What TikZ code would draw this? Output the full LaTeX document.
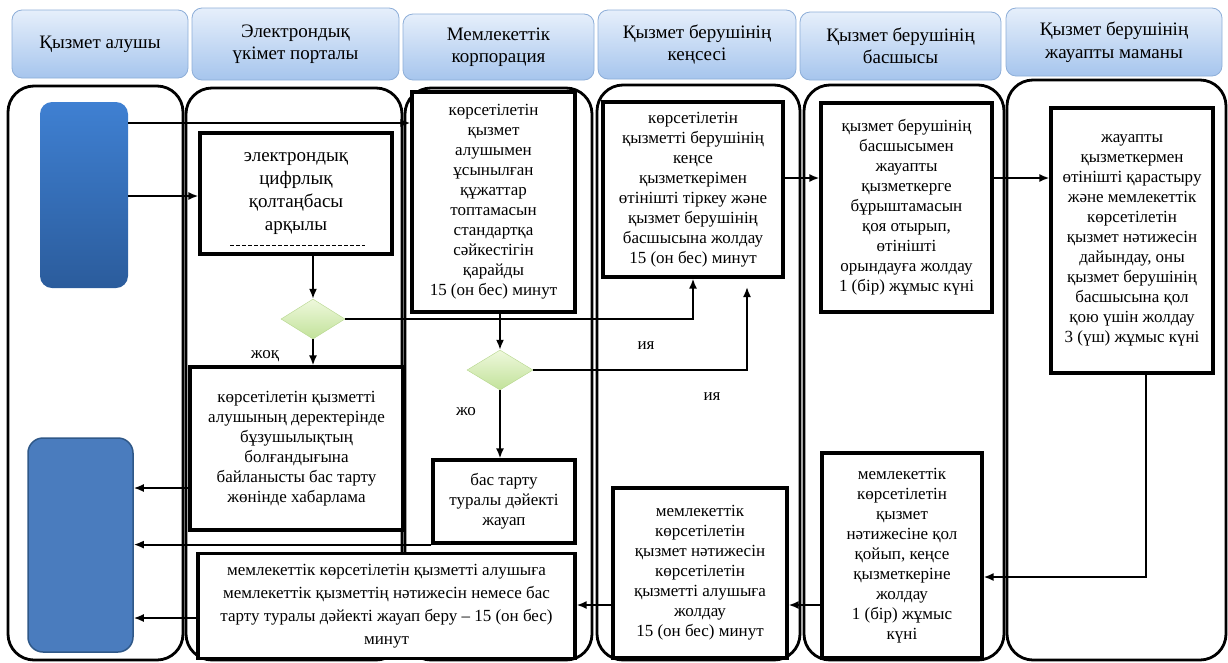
\documentclass[tikz,border=0pt]{standalone}
\usepackage{fontspec}
\setmainfont{Liberation Serif}
\usetikzlibrary{arrows.meta,shapes.geometric}
\definecolor{hdtop}{HTML}{E6EFFB}
\definecolor{hdbot}{HTML}{A6C5ED}
\definecolor{hdline}{HTML}{8DAED8}
\definecolor{bluetop}{HTML}{3F80D2}
\definecolor{bluebot}{HTML}{2B5C9C}
\definecolor{blueflat}{HTML}{4A7CBE}
\definecolor{blueline}{HTML}{2F5888}
\definecolor{dmtop}{HTML}{EEF8DC}
\definecolor{dmbot}{HTML}{C2E29A}
\definecolor{dmline}{HTML}{B5D68C}
\begin{document}
\begin{tikzpicture}[x=1pt,y=-1pt,
 hdr/.style={rounded corners=10pt, top color=hdtop, bottom color=hdbot, draw=hdline, line width=0.8pt, align=center, font=\fontsize{19}{22.5}\selectfont, inner sep=0pt},
 lane/.style={draw=black, line width=2.8pt, rounded corners=26pt},
 box/.style={draw=black, line width=3.2pt, fill=white, align=center, inner sep=0pt, font=\fontsize{17}{20}\selectfont},
 dec/.style={diamond, inner sep=0pt, top color=dmtop, bottom color=dmbot, draw=dmline, line width=0.4pt},
 arr/.style={line width=1.8pt, -{Latex[length=10pt,width=8pt]}},
 lbl/.style={font=\fontsize{17}{20}\selectfont, inner sep=0pt}
]
\useasboundingbox (0,0) rectangle (1228,662);

% headers
\node[hdr, minimum width=176, minimum height=68] (H1) at (100,44) {Қызмет алушы};
\node[hdr, minimum width=207, minimum height=72] (H2) at (295.5,44) {Электрондық\\үкімет порталы};
\node[hdr, minimum width=191, minimum height=66] (H3) at (498.5,47) {Мемлекеттік\\корпорация};
\node[hdr, minimum width=198, minimum height=69] (H4) at (697,44.5) {Қызмет берушінің\\кеңсесі};
\node[hdr, minimum width=201, minimum height=68] (H5) at (900.5,46) {Қызмет берушінің\\басшысы};
\node[hdr, minimum width=216, minimum height=68] (H6) at (1114,42) {Қызмет берушінің\\жауапты маманы};

% lanes
\draw[lane] (8,86) rectangle (183,660);
\draw[lane] (186,88) rectangle (402,660);
\draw[lane] (405,88) rectangle (592,660);
\draw[lane] (597,85) rectangle (800,660);
\draw[lane] (804,85) rectangle (1004,660);
\draw[lane] (1007,80) rectangle (1226,660);

% blue actor boxes
\node[rounded corners=12pt, top color=bluetop, bottom color=bluebot, minimum width=88, minimum height=186, inner sep=0pt] (B1) at (84,195) {};
\node[rounded corners=15pt, fill=blueflat, draw=blueline, line width=1.5pt, minimum width=105, minimum height=214, inner sep=0pt] (B2) at (80.5,545) {};

% process boxes
\node[box, minimum width=192, minimum height=121, font=\fontsize{19}{23}\selectfont] (E1) at (296,193.5) {электрондық\\цифрлық\\қолтаңбасы\\арқылы};
\draw[dashed, line width=0.6pt, dash pattern=on 4pt off 2pt] (230,245) -- (365,245);
\node[dec, minimum width=64, minimum height=40] (D1) at (313,319) {};
\node[box, minimum width=213, minimum height=163] (R1) at (296.5,448.5) {көрсетілетін қызметті\\алушының деректерінде\\бұзушылықтың\\болғандығына\\байланысты бас тарту\\жөнінде хабарлама};
\node[box, minimum width=163, minimum height=220] (C1) at (493.5,202) {көрсетілетін\\қызмет\\алушымен\\ұсынылған\\құжаттар\\топтамасын\\стандартқа\\сәйкестігін\\қарайды\\15 (он бес) минут};
\node[dec, minimum width=66, minimum height=40] (D2) at (500,370) {};
\node[box, minimum width=142, minimum height=83] (R2) at (504,501.5) {бас тарту\\туралы дәйекті\\жауап};
\node[box, minimum width=180, minimum height=175] (K1) at (693,189.5) {көрсетілетін\\қызметті берушінің\\кеңсе\\қызметкерімен\\өтінішті тіркеу және\\қызмет берушінің\\басшысына жолдау\\15 (он бес) минут};
\node[box, minimum width=171, minimum height=209] (BS) at (906.5,207.5) {қызмет берушінің\\басшысымен\\жауапты\\қызметкерге\\бұрыштамасын\\қоя отырып,\\өтінішті\\орындауға жолдау\\1 (бір) жұмыс күні};
\node[box, minimum width=162, minimum height=265] (J) at (1132,240.5) {жауапты\\қызметкермен\\өтінішті қарастыру\\және мемлекеттік\\көрсетілетін\\қызмет нәтижесін\\дайындау, оны\\қызмет берушінің\\басшысына қол\\қою үшін жолдау\\3 (үш) жұмыс күні};
\node[box, minimum width=160, minimum height=205] (M) at (902,555.5) {мемлекеттік\\көрсетілетін\\қызмет\\нәтижесіне қол\\қойып, кеңсе\\қызметкеріне\\жолдау\\1 (бір) жұмыс\\күні};
\node[box, minimum width=174, minimum height=170] (N) at (700,573) {мемлекеттік\\көрсетілетін\\қызмет нәтижесін\\көрсетілетін\\қызметті алушыға\\жолдау\\15 (он бес) минут};
\node[box, minimum width=377, minimum height=105, font=\fontsize{17}{23}\selectfont] (F) at (386.5,606) {мемлекеттік көрсетілетін қызметті алушыға\\мемлекеттік қызметтің нәтижесін немесе бас\\тарту туралы дәйекті жауап беру – 15 (он бес)\\минут};

% labels
\node[lbl] (l1) at (265,356) {жоқ};
\node[lbl] (l2) at (466,412) {жо};
\node[lbl] (l3) at (646,346) {ия};
\node[lbl] (l4) at (712,397) {ия};

% helper coordinates
\coordinate (y123) at (0,123);
\coordinate (y196) at (0,196);
\coordinate (y178) at (0,178);
\coordinate (y488) at (0,488);
\coordinate (y577) at (0,577);
\coordinate (y605) at (0,605);
\coordinate (y618) at (0,618);
\coordinate (jx) at (1146,0);
\coordinate (k2) at (747,287);

% connectors
\draw[arr] (B1.east |- y123) -- (C1.west |- y123);
\draw[arr] (B1.east |- y196) -- (E1.west |- y196);
\draw[arr] (E1.south -| D1.north) -- (D1.north);
\draw[arr] (D1.south) -- (D1.south |- R1.north);
\draw[arr] (D1.east) -| (K1.south);
\draw[arr] (C1.south -| D2.north) -- (D2.north);
\draw[arr] (D2.east) -| (k2);
\draw[arr] (D2.south) -- (D2.south |- R2.north);
\draw[arr] (K1.east |- y178) -- (BS.west |- y178);
\draw[arr] (BS.east |- y178) -- (J.west |- y178);
\draw[arr] (J.south -| jx) |- (M.east |- y577);
\draw[arr] (M.west |- y605) -- (N.east |- y605);
\draw[arr] (N.west |- y605) -- (F.east |- y605);
\draw[arr] (R1.west |- y488) -- (B2.east |- y488);
\draw[arr] (R2.south west) -- (R2.south west -| B2.east);
\draw[arr] (F.west |- y618) -- (B2.east |- y618);
\end{tikzpicture}
\end{document}
